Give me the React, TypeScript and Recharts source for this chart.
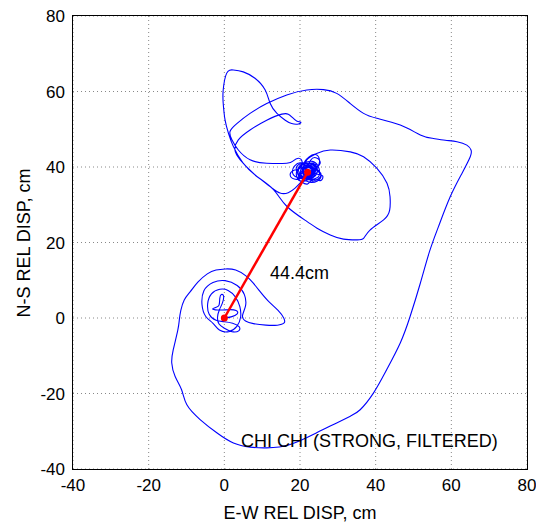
import React from 'react';
import { LineChart, Line, XAxis, YAxis, CartesianGrid } from 'recharts';

// axis ticks (cm)
const ewTicks = [-40, -20, 0, 20, 40, 60, 80];
const nsTicks = [-40, -20, 0, 20, 40, 60, 80];

// particle path, [E-W, N-S] in cm in drawing order
const originLoops = [
  [0, 0], [1.8, 0.3], [3.4, 1.1], [3.1, 2.0], [1.2, 2.2], [-1.0, 2.1], [-3.0, 2.3], [-2.3, 2.8],
  [-1.4, 3.4], [-1.2, 5.2], [-0.8, 6.2], [-0.2, 5.8], [-0.5, 4.0], [-1.3, 2.2], [-1.8, 0.2],
  [-1.4, -1.6], [0.0, -2.7], [2.0, -3.6], [3.8, -3.4], [3.9, -2.3], [2.2, -1.4], [0.0, -1.0],
  [-2.2, -0.6], [-4.0, 1.0], [-4.4, 3.8], [-3.4, 6.4], [-1.2, 7.6], [1.0, 7.3], [2.9, 5.6],
  [4.1, 3.0], [4.3, 0.2], [3.3, -2.2], [1.2, -3.6], [-1.3, -3.2], [-3.0, -1.4], [-4.9, 0.4],
  [-5.9, 3.5], [-5.4, 7.2], [-3.0, 9.4], [0.2, 9.9], [3.4, 8.6], [5.3, 6.2], [5.6, 3.2],
  [4.8, 0.6], [5.6, -0.8], [7.7, -1.5], [11.0, -1.9], [14.0, -1.9], [15.8, -1.3], [15.7, 0.0],
  [14.2, 2.0], [11.5, 4.6], [9.2, 7.3], [7.6, 9.3], [5.8, 11.1], [3.0, 12.7], [0.3, 13.0],
  [-2.2, 12.7], [-4.5, 11.7], [-7.0, 9.5], [-9.0, 7.0],
];

const outerLoop = [
  [-10.6, 4.8], [-11.5, 2.0], [-11.9, -0.5], [-12.3, -3.2], [-13.5, -8.4], [-13.9, -11.9],
  [-13.0, -15.5], [-11.3, -19.0], [-9.9, -23.0], [-6.4, -26.9], [-2.0, -30.4], [2.4, -33.1],
  [6.8, -34.2], [11.2, -34.4], [17.4, -33.5], [24.4, -30.4], [29.7, -27.8], [33.3, -26.0],
  [35.9, -24.3], [39.4, -19.9], [42.9, -13.7], [46.5, -6.6], [49.1, 0.4], [51.8, 9.2],
  [54.2, 17.5], [56.6, 24.2], [59.7, 32.1], [62.8, 38.3], [65.0, 42.7], [65.2, 44.5],
  [64.1, 45.8], [61.5, 46.7], [58.4, 47.1], [55.0, 47.6], [51.8, 48.5], [46.5, 51.1],
  [40.3, 52.9], [36.8, 54.2], [33.3, 56.8], [29.7, 59.5], [26.2, 60.5], [21.8, 60.4],
  [16.5, 59.1], [11.2, 56.8], [6.8, 54.2], [3.3, 51.5], [1.5, 49.4], [2.0, 47.2], [3.7, 44.5],
  [6.8, 41.9], [11.2, 41.0], [16.5, 41.0],
];

const clusterA = [
  [18.2, 41.6], [19.6, 42.3], [20.6, 41.2], [19.9, 39.6], [18.3, 39.1], [17.4, 37.9], [18.5, 36.8],
  [20.4, 37.1], [21.7, 38.7], [21.0, 40.6], [22.4, 42.7], [24.1, 43.3], [25.1, 42.1], [24.6, 40.1],
  [23.1, 39.2], [24.6, 38.1], [26.0, 37.6], [25.4, 36.4], [23.5, 36.7], [22.0, 35.5], [20.4, 36.1],
  [19.1, 37.6], [19.6, 39.8], [21.3, 40.8], [23.0, 41.0], [24.0, 39.6], [23.2, 37.6], [21.6, 36.7],
  [20.2, 38.0], [20.9, 39.8], [21.8, 41.9],
];

const eastLoop = [
  [24.4, 43.6], [28.0, 44.5], [33.3, 44.0], [36.8, 42.7], [40.3, 39.7], [43.0, 35.7], [43.8, 32.1],
  [43.7, 28.6], [42.1, 26.0], [38.5, 23.3], [36.8, 21.1], [35.0, 20.7], [31.5, 20.9], [28.0, 22.0],
  [24.5, 23.8], [21.8, 25.6], [16.5, 29.6], [13.0, 34.0], [8.6, 37.5], [5.0, 41.0], [2.4, 45.4],
  [1.1, 48.9], [0.2, 52.4],
];

const tallLoop = [
  [-0.3, 56.9], [-0.3, 60.4], [0.6, 64.8], [2.4, 65.7], [5.0, 65.2], [8.1, 63.5], [10.8, 60.4],
  [12.1, 56.9], [13.9, 54.2], [16.1, 52.4], [17.8, 51.5], [19.6, 51.4], [20.2, 51.9], [19.1, 52.2],
  [17.8, 53.3], [16.9, 54.0], [15.2, 54.0], [11.2, 52.4], [6.8, 49.8], [3.7, 47.2], [2.8, 44.5],
  [4.2, 41.9], [7.7, 38.3], [12.1, 34.8], [14.7, 33.1], [16.9, 33.2], [18.7, 34.4], [20.0, 35.7],
];

const clusterB = [
  [20.8, 37.0], [19.2, 37.3], [18.0, 38.6], [18.6, 40.3], [20.3, 41.1], [21.9, 40.2], [22.8, 41.8],
  [24.4, 42.4], [25.3, 40.9], [24.2, 39.4], [25.5, 38.2], [24.7, 36.8], [23.0, 36.3], [21.8, 37.4],
  [20.9, 39.0], [22.4, 39.8], [23.8, 38.4], [22.9, 37.2], [21.2, 37.9], [20.6, 39.6], [21.7, 40.5],
  [23.3, 39.9], [23.6, 38.3], [22.3, 37.0], [20.4, 37.6], [19.6, 39.2], [20.5, 40.6], [22.2, 41.0],
  [23.7, 40.6], [24.6, 39.3], [24.1, 37.7], [22.6, 36.9], [21.1, 37.2], [20.1, 38.4], [20.6, 39.9],
  [22.0, 40.3], [23.1, 39.5], [22.8, 38.0], [21.4, 37.8], [20.9, 39.1], [21.9, 39.9], [23.4, 39.7],
  [24.9, 39.0], [25.6, 37.6], [24.6, 36.3], [22.9, 35.9], [21.3, 36.4], [19.9, 37.3], [19.3, 38.7],
  [19.8, 40.2], [21.0, 41.0], [22.6, 40.9], [23.9, 40.0], [24.0, 38.6], [23.0, 37.5], [21.6, 37.3],
  [20.7, 38.3], [21.1, 39.5], [22.4, 39.8], [23.3, 39.0], [22.9, 37.9], [21.8, 37.9], [21.4, 38.9],
  [20.2, 38.1], [19.4, 36.9], [20.6, 36.2], [22.2, 36.6], [23.9, 36.9], [25.1, 37.9], [24.7, 40.4],
  [23.2, 41.5], [21.6, 41.3], [19.9, 40.8], [19.0, 39.7], [19.6, 38.0], [21.2, 37.0], [23.0, 37.2],
  [24.3, 38.2], [24.5, 39.9], [23.5, 41.0], [21.9, 40.7], [20.7, 39.3], [21.3, 37.7], [22.9, 37.5],
  [23.8, 38.9], [23.1, 40.3], [21.7, 40.2], [20.9, 38.7], [21.9, 37.6], [23.2, 38.0], [23.4, 39.4],
  [22.3, 39.9], [21.4, 39.2], [21.8, 38.1], [22.9, 38.3], [22.8, 39.2], [22.0, 38.6],
];

// net displacement vector: start -> end
const netStart = [0, 0];
const netEnd = [22.0, 38.6];

const pathData = [...originLoops, ...outerLoop, ...clusterA, ...eastLoop, ...tallLoop, ...clusterB].map(
  ([x, y]) => ({ x, y })
);
const netData = [netStart, netEnd].map(([x, y]) => ({ x, y }));

const font = '"Liberation Sans", Arial, Helvetica, sans-serif';
const tickStyle = { fontSize: 17, fill: '#000', fontFamily: font };

export default function App() {
  return (
    <div style={{ position: 'relative', width: 536, height: 514, fontFamily: font, color: '#000' }}>
      <LineChart width={536} height={514} margin={{ top: 8, right: 17, left: 0, bottom: 0 }}>
        <CartesianGrid stroke="#888" strokeDasharray="1 3" />
        <XAxis
          type="number"
          dataKey="x"
          domain={[-40, 80]}
          ticks={ewTicks}
          interval={0}
          allowDataOverflow
          height={53}
          tickLine={false}
          tickMargin={4}
          axisLine={false}
          tick={tickStyle}
        />
        <YAxis
          type="number"
          dataKey="y"
          domain={[-40, 80]}
          ticks={nsTicks}
          interval={0}
          allowDataOverflow
          width={65}
          tickLine={false}
          axisLine={false}
          tick={tickStyle}
        />
        <Line
          data={pathData}
          dataKey="y"
          type="natural"
          stroke="#0000ff"
          strokeWidth={1.1}
          dot={false}
          activeDot={false}
          isAnimationActive={false}
        />
        <Line
          data={netData}
          dataKey="y"
          type="linear"
          stroke="#ff0000"
          strokeWidth={2.5}
          dot={{ r: 3.5, fill: '#ff0000', stroke: '#ff0000', strokeWidth: 0 }}
          activeDot={false}
          isAnimationActive={false}
        />
      </LineChart>

      {/* plot frame drawn over the chart */}
      <div
        style={{
          position: 'absolute',
          left: 64,
          top: 7,
          width: 456,
          height: 455,
          border: '1.5px solid #000',
          boxSizing: 'border-box',
          pointerEvents: 'none',
        }}
      />

      <div style={{ position: 'absolute', left: 262, top: 256, fontSize: 18, lineHeight: '18px', whiteSpace: 'nowrap' }}>
        44.4cm
      </div>
      <div style={{ position: 'absolute', left: 233, top: 424, fontSize: 18, lineHeight: '18px', whiteSpace: 'nowrap' }}>
        CHI CHI (STRONG, FILTERED)
      </div>
      <div
        style={{
          position: 'absolute',
          left: 65,
          width: 454,
          top: 496,
          fontSize: 18,
          lineHeight: '18px',
          textAlign: 'center',
          whiteSpace: 'nowrap',
        }}
      >
        E-W REL DISP, cm
      </div>
      <div
        style={{
          position: 'absolute',
          left: 16 - 100,
          width: 200,
          top: 234.5 - 9,
          fontSize: 18,
          lineHeight: '18px',
          textAlign: 'center',
          whiteSpace: 'nowrap',
          transform: 'rotate(-90deg)',
        }}
      >
        N-S REL DISP, cm
      </div>
    </div>
  );
}
